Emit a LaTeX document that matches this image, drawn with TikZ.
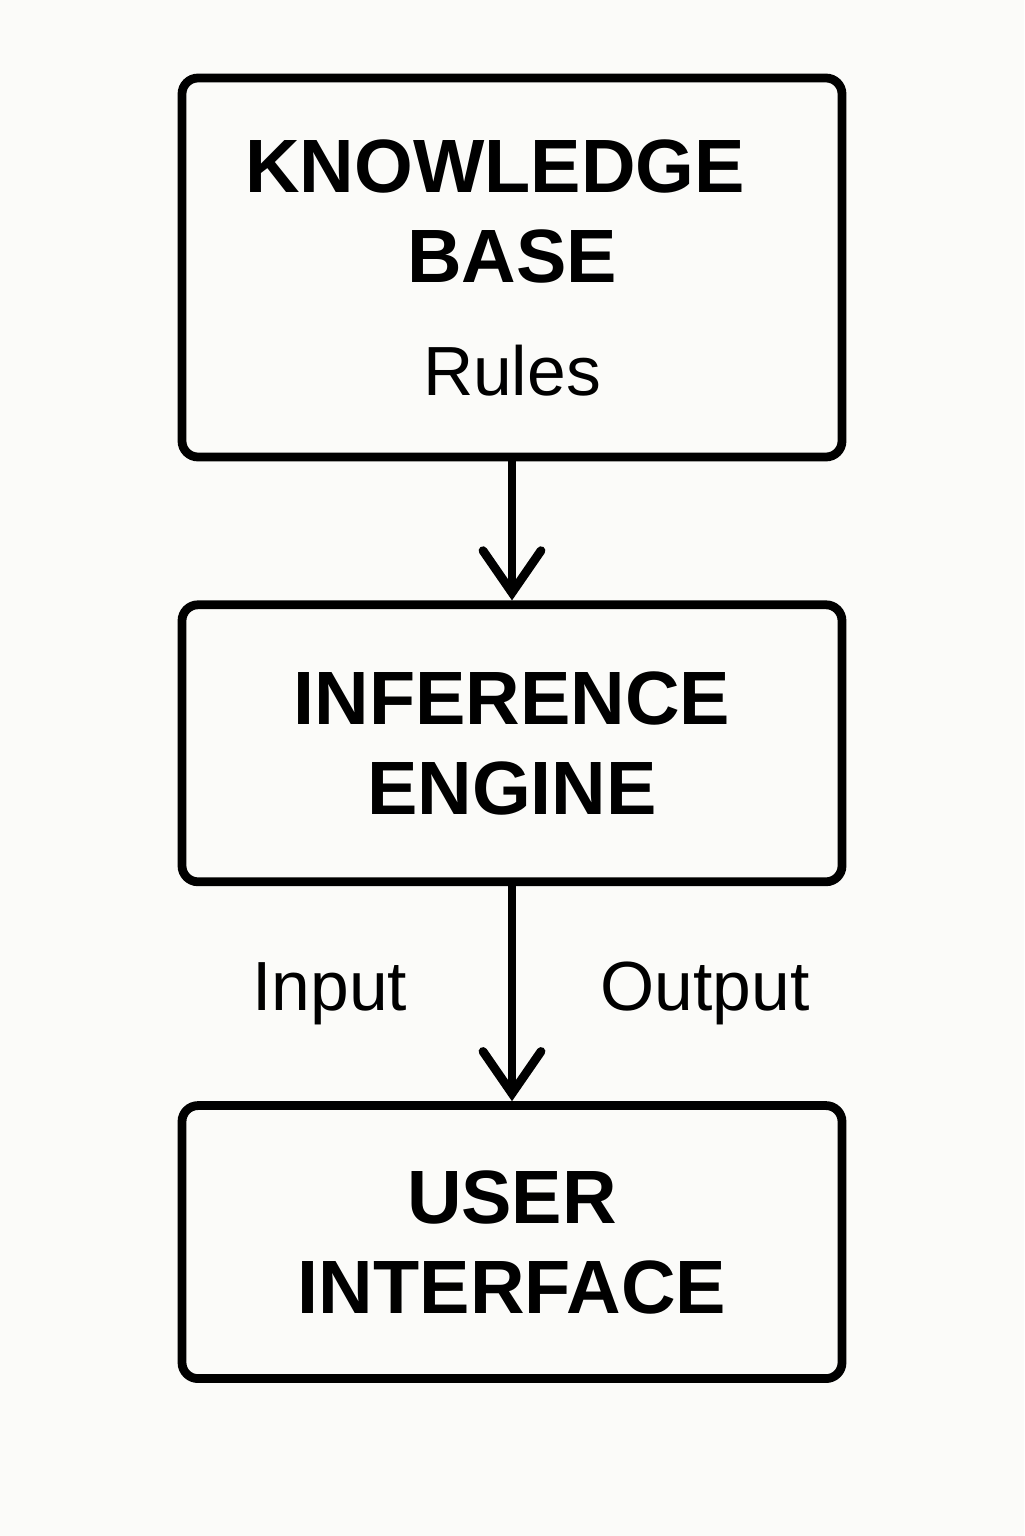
\documentclass[tikz,border=0pt]{standalone}
\usepackage{fontspec}
\setmainfont{Liberation Sans}
\usepackage{xcolor}
\usetikzlibrary{arrows.meta,positioning,calc}
\definecolor{paper}{HTML}{FBFBF9}

\begin{document}
\begin{tikzpicture}[>={Straight Barb[length=4.2mm,width=5.8mm,line cap=round]},
    block/.style={draw,line width=2.5pt,rounded corners=1.6mm,minimum width=6.6cm,
      align=center,font=\fontsize{21.5}{25.6}\selectfont\bfseries},
    lbl/.style={inner sep=0pt,font=\fontsize{19.8}{24}\selectfont},
    flow/.style={->,line width=2.5pt}]
  \fill[paper] (0,0) rectangle (10.24,-15.36);
  \useasboundingbox (0,0) rectangle (10.24,-15.36);
  \node[block,minimum height=3.79cm] (kb) at (5.12,-2.675)
    {KNOWLEDGE\hspace*{0.34cm}\\BASE\\[0.23cm]{\fontsize{19.8}{24}\selectfont\mdseries Rules}};
  \node[block,minimum height=2.77cm,below=1.39cm of kb] (ie) {INFERENCE\\ENGINE};
  \node[block,minimum height=2.73cm,below=2.15cm of ie] (ui) {USER\\INTERFACE};
  \draw[flow] (kb) -- (ie);
  \draw[flow] (ie) -- (ui);
  \coordinate (mid) at ($(ie.south)!0.5!(ui.north)$);
  \node[lbl,left=1.04cm of mid] (in) {Input};
  \node[lbl,right=0.88cm of mid] (out) {Output};
\end{tikzpicture}
\end{document}
